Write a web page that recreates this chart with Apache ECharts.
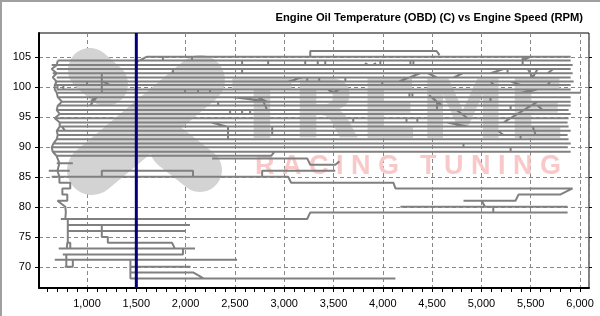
<!DOCTYPE html>
<html><head><meta charset="utf-8">
<script src="https://cdn.jsdelivr.net/npm/echarts@6/dist/echarts.min.js"></script>
<style>html,body{margin:0;padding:0;background:#fff}#c{width:600px;height:316px}</style>
</head><body><div id="c"></div>
<script>
const titleText = 'Engine Oil Temperature (OBD) (C) vs Engine Speed (RPM)';
const yTickValues = [70, 75, 80, 85, 90, 95, 100, 105];
const xLabelValues = [1000, 1500, 2000, 2500, 3000, 3500, 4000, 4500, 5000, 5500, 6000];
const xMinorTickValues = [600, 700, 800, 900, 1000, 1100, 1200, 1300, 1400, 1500, 1600, 1700, 1800, 1900, 2000, 2100, 2200, 2300, 2400, 2500, 2600, 2700, 2800, 2900, 3000, 3100, 3200, 3300, 3400, 3500, 3600, 3700, 3800, 3900, 4000, 4100, 4200, 4300, 4400, 4500, 4600, 4700, 4800, 4900, 5000, 5100, 5200, 5300, 5400, 5500, 5600, 5700, 5800, 5900, 6000];
const cursorRpm = 1500;

// long horizontal passes in the hot range: temperature, start rpm, end rpm
const levelTemps = [105.05, 104.4, 103.65, 103.0, 102.3, 101.6, 100.9, 100.35, 99.6, 99.05, 98.3, 97.55, 96.9, 96.15, 95.5, 94.8, 94.1, 93.4, 92.7, 92.0, 91.3, 90.6, 89.95, 89.2];
const levelStartRpm = [1607, 703, 642, 693, 652, 693, 673, 673, 693, 703, 703, 744, 703, 693, 723, 673, 723, 723, 693, 703, 693, 652, 642, 652];
const levelEndRpm = [5905, 5905, 5925, 5905, 5925, 5905, 5935, 5905, 5905, 6007, 5905, 5905, 5905, 5884, 5905, 5884, 5874, 5884, 5905, 5874, 5884, 5905, 5874, 5905];

// warm-up passes (rpm, temp)
const warmupStrokes = [
  [[693,88.55],[2870,88.55],[2900,89.2]],
  [[2268,88.1],[3233,88.1],[3264,87.05],[3518,87.05],[3560,87.6]],
  [[1150,85.05],[1150,86.05],[2075,86.05],[2075,85.2]],
  [[2776,85.05],[2776,86.05],[3518,86.05]],
  [[642,85.05],[3040,85.05],[3070,84.05],[4107,84.05],[4128,83.1],[5925,83.1]],
  [[4818,81.05],[5346,81.05],[5377,82.1],[5803,82.1],[5925,83.1]],
  [[5003,81.05],[5036,80.05]],
  [[4178,80.05],[5874,80.05]],
  [[5120,80.05],[5120,79.1]],
  [[734,78],[3233,78],[3264,79.1],[5874,79.1]],
  [[795,77],[2044,77]],
  [[795,76],[1994,76]],
  [[1150,77],[1150,75],[1211,75],[1211,74.05],[1862,74.05],[1890,73.1]],
  [[713,73.1],[2095,73.1]],
  [[754,72.1],[1973,72.1],[1973,73.1]],
  [[673,71.2],[2522,71.2]],
  [[1440,71.2],[1440,68.1],[4128,68.1]],
  [[1440,70.05],[2050,70.05]],
  [[1440,69.1],[2075,69.1],[2130,68.6],[2180,68.1]]
];

// idle wandering near the left edge (rpm, temp)
const idleStrokes = [
  [[774,70.05],[856,70.05],[856,71.2]],
  [[790,70.05],[790,72.1]],
  [[795,73.1],[800,74.05],[830,74.05],[830,73.1]],
  [[805,74.05],[805,78]],
  [[780,78],[785,79.1],[780,80.05],[700,81.05],[800,81.05],[800,82.1],[750,82.1],[750,83.1],[830,83.1],[830,84.05],[720,84.05],[720,85.05]],
  [[612,86.05],[825,86.05]],
  [[693,87.3],[856,87.3]],
  [[720,85.05],[700,86.05],[720,87.3],[690,88.55],[652,89.2]],
  [[652,89.2],[642,89.95],[660,90.6],[693,91.3],[703,92.0],[693,92.7],[723,93.4],[723,94.1],[673,94.8],[723,95.5],[693,96.15],[703,96.9],[744,97.55],[703,98.3],[693,99.05],[673,99.6],[673,100.35],[693,100.9],[652,101.6],[693,102.3],[642,103.0],[693,103.65],[703,104.4]],
  [[744,93.4],[780,92.7]],
  [[700,100.35],[700,99.6]],
  [[760,100.35],[760,99.6]]
];

// short temperature changes during pulls (rpm, temp)
const connectorStrokes = [
  [[1506,104.2],[1607,105.05]],
  [[3264,105.05],[3264,106.0],[4545,106.0],[4575,105.3]],
  [[1770,105.05],[1770,104.4]], [[2065,105.05],[2065,104.4]],
  [[2330,97.55],[2330,96.9]],
  [[2573,104.4],[2573,103.65]], [[2837,104.4],[2837,103.65]],
  [[3213,104.4],[3213,103.65]], [[3340,104.4],[3340,103.65]], [[3416,104.4],[3416,103.65]],
  [[1871,103.0],[1871,102.3]], [[2573,103.0],[2573,102.3]],
  [[1994,99.6],[1994,99.05]], [[2126,99.6],[2126,99.05]], [[2248,99.6],[2248,99.05]],
  [[2451,96.15],[2451,95.5]], [[2573,96.15],[2573,95.5]], [[2654,96.15],[2654,95.5]],
  [[2481,98.3],[2786,97.7],[2827,96.15]],
  [[3030,100.9],[3193,101.6]], [[3233,101.6],[3233,100.9]], [[3355,101.6],[3355,100.9]],
  [[2248,94.1],[2430,93.4],[2430,91.3]],
  [[3437,99.6],[3500,99.05],[3560,99.6]],
  [[2725,98.3],[2827,97.55]],
  [[2878,93.4],[2878,92.0]],
  [[3820,104.0],[3850,103.65],[3900,103.65],[3930,104.0]],
  [[3975,104.4],[3975,103.65]], [[4280,104.4],[4280,103.65]], [[4310,104.4],[4310,103.65]],
  [[4158,100.9],[4380,102.3]], [[4450,102.3],[4550,101.6]], [[4717,101.6],[4818,102.3]],
  [[3620,101.6],[3620,100.9]], [[3995,100.9],[3995,100.35]],
  [[4270,99.05],[4270,98.3]], [[4300,99.05],[4300,98.3]],
  [[4470,98.6],[4600,96.9]], [[4550,97.55],[4550,96.15]],
  [[4750,96.15],[4860,94.8]],
  [[3700,94.8],[3700,94.1]], [[4240,94.8],[4240,94.1]], [[4350,94.8],[4350,94.1]],
  [[4650,94.1],[4860,93.4]], [[4818,90.6],[4818,89.95]],
  [[5397,104.4],[5500,105.05]], [[5418,105.05],[5418,103.65]],
  [[5092,102.3],[5225,103.0]], [[5265,103.0],[5265,102.3]],
  [[5470,103.0],[5520,101.6],[5570,103.0]], [[5670,102.3],[5730,103.0]],
  [[5092,100.9],[5125,100.35]], [[5296,100.9],[5397,100.35]], [[5670,100.35],[5700,100.9]],
  [[5397,99.05],[5570,99.6]], [[5092,98.3],[5092,97.55]],
  [[5225,94.1],[5570,97.55]], [[5296,96.9],[5296,96.15]], [[5570,96.9],[5620,96.15]],
  [[5165,92.7],[5225,92.0]], [[5397,92.0],[5397,91.3]], [[5520,93.4],[5550,92.0]],
  [[5296,89.95],[5296,89.2]],
  [[1150,102.3],[1150,99.05]], [[1150,101.0],[1230,100.35]],
  [[1030,96.9],[1100,98.3]], [[1000,100.9],[1000,100.35]], [[1040,97.55],[1080,98.3]]
];

const strokes = [];
levelTemps.forEach((t, i) => strokes.push([[levelStartRpm[i], t], [levelEndRpm[i], t]]));
strokes.push(...warmupStrokes, ...idleStrokes, ...connectorStrokes);
const traceData = [];
strokes.forEach(s => { s.forEach(p => traceData.push(p)); traceData.push(['-', '-']); });

const X_MIN = 513, X_MAX = 6091;
const Y_MIN = 66.5, Y_MAX = 109;
const chart = echarts.init(document.getElementById('c'), null, {renderer: 'canvas'});
const labelFont = {fontFamily: 'Liberation Sans', fontSize: 11, color: '#000'};
const gridDash = {color: '#888', width: 1, type: [4, 3]};

function capsule(x1, y1, x2, y2, th, fill) {
  const len = Math.hypot(x2 - x1, y2 - y1) + th;
  return {type: 'rect', x: (x1 + x2) / 2, y: (y1 + y2) / 2,
    rotation: -Math.atan2(y2 - y1, x2 - x1), silent: true, z: 1,
    shape: {x: -len / 2, y: -th / 2, width: len, height: th, r: th / 2},
    style: {fill: fill}};
}
const wm = '#d3d3d3';

chart.setOption({
  animation: false,
  backgroundColor: '#fff',
  title: {text: titleText, right: 17, top: 12, padding: 0,
    textStyle: {fontFamily: 'Liberation Sans', fontSize: 11.2, fontWeight: 'bold', color: '#000'}},
  grid: {left: 39, right: 11, top: 33, bottom: 28, show: true, borderColor: '#000', borderWidth: 1, backgroundColor: 'transparent'},
  xAxis: [
    {type: 'value', position: 'bottom', min: X_MIN, max: X_MAX, splitNumber: 11,
      axisLine: {show: true, onZero: false, lineStyle: {color: '#000', width: 2}},
      axisTick: {show: false},
      axisLabel: Object.assign({margin: 10, customValues: xLabelValues,
        formatter: v => (v % 500 === 0) ? v.toLocaleString('en-US') : ''}, labelFont),
      splitLine: {show: true, lineStyle: gridDash}},
    {type: 'value', position: 'bottom', min: X_MIN, max: X_MAX, splitNumber: 11,
      axisLine: {show: false, onZero: false},
      axisTick: {show: true, inside: false, length: 4, lineStyle: {color: '#000'}, customValues: xMinorTickValues},
      axisLabel: {show: false}, splitLine: {show: false}}
  ],
  yAxis: [
    {type: 'value', position: 'left', min: Y_MIN, max: Y_MAX, splitNumber: 8,
      axisLine: {show: true, onZero: false, lineStyle: {color: '#000', width: 2}},
      axisTick: {show: true, length: 4, lineStyle: {color: '#000'}, customValues: yTickValues},
      axisLabel: Object.assign({margin: 8, customValues: yTickValues, formatter: v => (v % 5 === 0) ? String(v) : ''}, labelFont),
      splitLine: {show: true, lineStyle: gridDash}},
    {type: 'value', position: 'right', min: Y_MIN, max: Y_MAX, splitNumber: 8,
      axisLine: {show: false, onZero: false},
      axisTick: {show: true, length: 3, lineStyle: {color: '#000'}, customValues: yTickValues},
      axisLabel: {show: false}, splitLine: {show: false}}
  ],
  graphic: {elements: [
    {type: 'rect', silent: true, z: 0, shape: {x: 1, y: 1, width: 640, height: 360}, style: {fill: 'none', stroke: '#a0a0a0', lineWidth: 2}},
    capsule(90, 70, 106, 84, 44, wm),
    capsule(172, 148, 200, 170, 44, wm),
    capsule(92, 170, 200, 80, 50, wm),
    {type: 'text', x: 232, y: 117, scaleX: 1.07, silent: true, z: 1,
      style: {text: 'TREME', font: 'bold 82px "DejaVu Sans"', fill: wm, textAlign: 'left', textVerticalAlign: 'middle'}},
    {type: 'text', x: 255, y: 167, silent: true, z: 1,
      style: {text: 'R A C I N G', font: 'bold 27px "Liberation Sans"', fill: '#f9c9c9', textAlign: 'left', textVerticalAlign: 'middle'}},
    {type: 'text', x: 420, y: 167, silent: true, z: 1,
      style: {text: 'T U N I N G', font: 'bold 27px "Liberation Sans"', fill: '#f9c9c9', textAlign: 'left', textVerticalAlign: 'middle'}}
  ]},
  series: [
    {type: 'line', xAxisIndex: 0, yAxisIndex: 0, data: traceData, showSymbol: false, symbol: 'none',
      connectNulls: false, z: 3, silent: true,
      lineStyle: {color: '#808080', width: 2}},
    {type: 'line', xAxisIndex: 0, yAxisIndex: 0, data: [[cursorRpm, Y_MIN], [cursorRpm, Y_MAX]],
      symbol: 'none', z: 4, silent: true, lineStyle: {color: '#000080', width: 3}}
  ]
});
</script></body></html>
